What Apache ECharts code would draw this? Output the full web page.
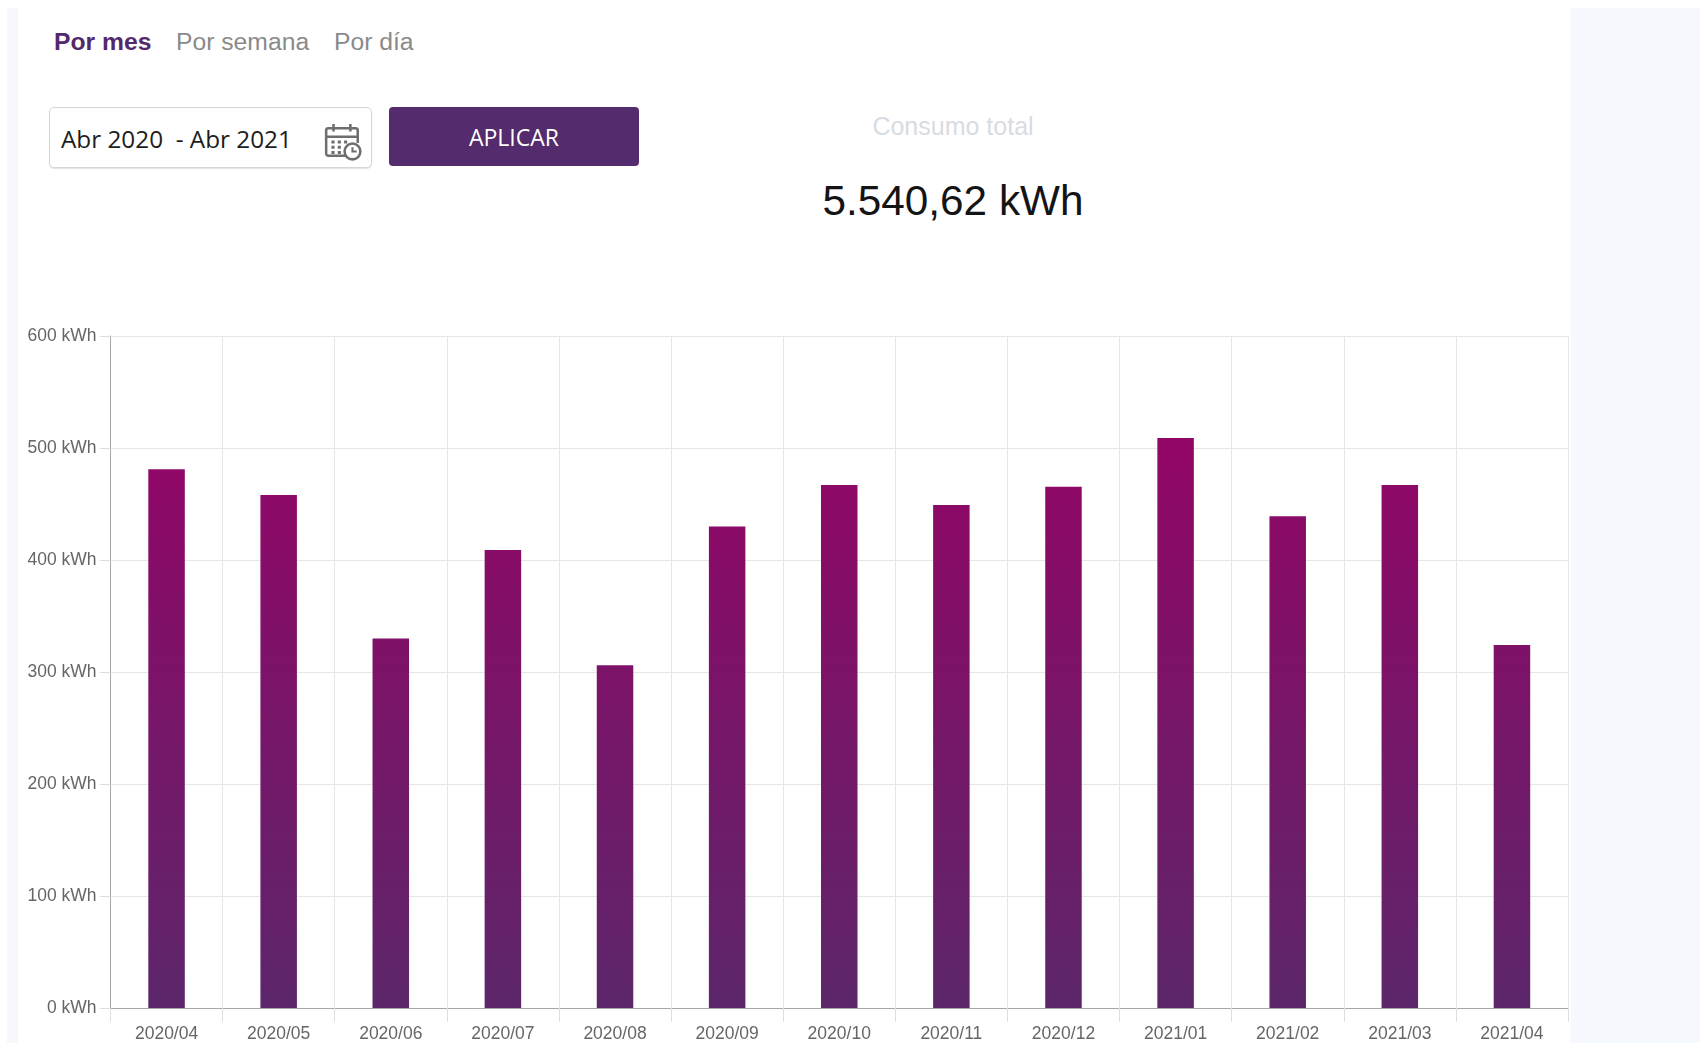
<!DOCTYPE html>
<html lang="es">
<head>
<meta charset="utf-8">
<title>Consumo total</title>
<script src="https://cdn.jsdelivr.net/npm/echarts@6/dist/echarts.min.js"></script>
<style>
  html, body { margin: 0; padding: 0; width: 1700px; height: 1043px; overflow: hidden; background: #fff; }
  body { position: relative; font-family: "Liberation Sans", Arial, sans-serif; }
  .side-left { position: absolute; left: 7px; top: 8px; width: 11px; height: 1035px; background: #f7f7fd; }
  .side-right { position: absolute; left: 1571px; top: 8px; width: 129px; height: 1035px; background: #f5f8fc; }
  .tab { position: absolute; top: 26px; font-size: 24.7px; line-height: 32px; color: #8a8a8a; white-space: nowrap; }
  .tab.active { font-weight: 700; color: #54296b; }
  .range { position: absolute; left: 49px; top: 107px; width: 321px; height: 59px; border: 1px solid #d5d5d5; border-radius: 5px; box-shadow: 0 1px 1px #e4e4e4; }
  .range span { position: absolute; left: 11px; top: 15px; font: 24.3px/32px "Open Sans", sans-serif; color: #1d1d1d; white-space: pre; }
  .range svg { position: absolute; left: 274px; top: 14px; }
  .apply { position: absolute; left: 389px; top: 107px; width: 250px; height: 59px; background: #542b6c; border-radius: 4px; color: #fff; font: 23px/61px "Open Sans", sans-serif; text-align: center; }
  .total-label { position: absolute; left: 753px; width: 400px; top: 111px; text-align: center; font-size: 25px; line-height: 30px; color: #d8dbe1; }
  .total-value { position: absolute; left: 753px; width: 400px; top: 176px; text-align: center; font-size: 42.3px; line-height: 50px; color: #141414; }
  #consumo-chart { position: absolute; left: 0; top: 300px; width: 1700px; height: 743px; }
</style>
</head>
<body>
<div class="side-left"></div>
<div class="side-right"></div>
<div class="tab active" style="left:54px">Por mes</div>
<div class="tab" style="left:176px">Por semana</div>
<div class="tab" style="left:334px">Por día</div>
<div class="range">
  <span>Abr 2020  - Abr 2021</span>
  <svg width="38" height="40" viewBox="0 0 36 38" fill="none" stroke="#6e6e6e" stroke-width="2.4">
    <path d="M21 32H4a2 2 0 0 1-2-2V8a2 2 0 0 1 2-2h26a2 2 0 0 1 2 2v12"/>
    <path d="M2 14h30M9 2v7M25 2v7"/>
    <path d="M7 19h3M13 19h3M19 19h3M7 24h3M13 24h3M7 29h3M13 29h3" stroke-width="3"/>
    <circle cx="27" cy="28" r="7.5"/>
    <path d="M27 24v4h4" stroke-width="2"/>
  </svg>
</div>
<div class="apply">APLICAR</div>
<div class="total-label">Consumo total</div>
<div class="total-value">5.540,62 kWh</div>
<div id="consumo-chart"></div>
<script>
const meses = ["2020/04", "2020/05", "2020/06", "2020/07", "2020/08", "2020/09", "2020/10", "2020/11", "2020/12", "2021/01", "2021/02", "2021/03", "2021/04"];
const consumo = [481, 458, 330, 409, 306, 430, 467, 449, 465.5, 509, 439, 467, 324];

const chart = echarts.init(document.getElementById("consumo-chart"));
chart.setOption({
  animation: false,
  grid: { left: 110.5, right: 132, top: 36, bottom: 34, containLabel: false },
  xAxis: {
    type: "category",
    data: meses,
    boundaryGap: true,
    axisLine: { lineStyle: { color: "#a6a6a6", width: 1 } },
    axisTick: { show: true, alignWithLabel: false, length: 14, lineStyle: { color: "#dedede" } },
    axisLabel: { color: "#666", fontFamily: "Liberation Sans", fontSize: 17.5, margin: 17, interval: 0 },
    splitLine: { show: true, interval: 0, lineStyle: { color: "#e6e6e6", width: 1 } }
  },
  yAxis: {
    type: "value",
    min: 0,
    max: 600,
    interval: 100,
    axisLine: { show: true, lineStyle: { color: "#a6a6a6", width: 1 } },
    axisTick: { show: true, length: 11, lineStyle: { color: "#dedede" } },
    axisLabel: { color: "#666", fontFamily: "Liberation Sans", fontSize: 17.5, margin: 14, formatter: "{value} kWh" },
    splitLine: { show: true, lineStyle: { color: "#e6e6e6", width: 1 } }
  },
  series: [{
    name: "Consumo",
    type: "bar",
    data: consumo,
    barWidth: 36.5,
    itemStyle: {
      // the reference gradient runs over the whole plot, not bar by bar
      color: {
        type: "linear",
        global: true,
        x: 0, y: 36, x2: 0, y2: 709,
        colorStops: [
          { offset: 0, color: "#9c0066" },
          { offset: 1, color: "#5c266a" }
        ]
      }
    }
  }]
});
</script>
</body>
</html>
